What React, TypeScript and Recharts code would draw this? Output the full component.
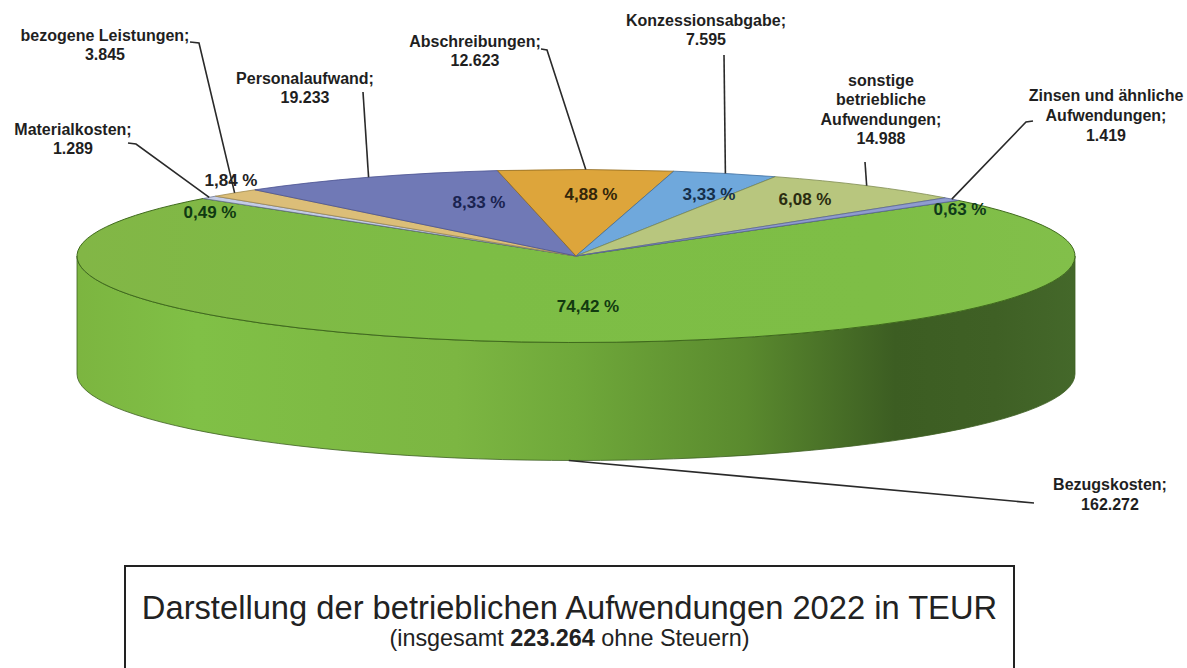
import React from 'react';
import { PieChart, Pie } from 'recharts';

const categories = ['Bezugskosten', 'Materialkosten', 'bezogene Leistungen', 'Personalaufwand', 'Abschreibungen', 'Konzessionsabgabe', 'sonstige betriebliche Aufwendungen', 'Zinsen und ähnliche Aufwendungen'];
const values = [162272, 1289, 3845, 19233, 12623, 7595, 14988, 1419];
const valueLabels = ['162.272', '1.289', '3.845', '19.233', '12.623', '7.595', '14.988', '1.419'];
const percentLabels = ['74,42 %', '0,49 %', '1,84 %', '8,33 %', '4,88 %', '3,33 %', '6,08 %', '0,63 %'];
const titleText = 'Darstellung der betrieblichen Aufwendungen 2022 in TEUR';

// styling and layout (not data)
const colors = ['#7DBB43', '#C4CCE6', '#DCBE78', '#7079B6', '#DDA53B', '#6FA8DC', '#B8C67E', '#8F9CCF'];
const strokes = ['#3f6a1c', '#6a7390', '#a08a50', '#4a5290', '#8f6a20', '#3f6f9f', '#7f8c50', '#5a6699'];
const percentColors = ['#123a10', '#0f3a12', '#222222', '#1a2350', '#33260a', '#152f4a', '#2a2c10', '#0f3a1a'];
const CX = 576, CY = 256, RX = 499, SQUASH = 86.5 / 499, DEPTH = 118;

const labelLayout = [
  { x: 1110, ys: [490, 510], lines: ['Bezugskosten;'], knee: [[1034, 503]], px: 588, py: 306, fromWall: true },
  { x: 73, ys: [135, 154], lines: ['Materialkosten;'], knee: [[128, 143], [136, 144]], px: 210, py: 212 },
  { x: 105, ys: [41, 60], lines: ['bezogene Leistungen;'], knee: [[190, 42], [199, 43]], px: 231, py: 180 },
  { x: 305, ys: [84, 103], lines: ['Personalaufwand;'], knee: [[363, 92]], px: 479, py: 202 },
  { x: 475, ys: [47, 66], lines: ['Abschreibungen;'], knee: [[541, 49], [547, 50]], px: 591, py: 194 },
  { x: 706, ys: [26, 45], lines: ['Konzessionsabgabe;'], knee: [[724, 55]], px: 709, py: 194 },
  { x: 881, ys: [86, 105, 125, 144], lines: ['sonstige', 'betriebliche', 'Aufwendungen;'], knee: [[865, 162]], px: 805, py: 199 },
  { x: 1106, ys: [101, 121, 141], lines: ['Zinsen und ähnliche', 'Aufwendungen;'], knee: [[1033, 121], [1026, 122]], px: 960, py: 209 },
];

const tableData = categories.map((name, i) => ({ name, value: values[i], fill: colors[i] }));
const FONT = '"Liberation Sans", Arial, sans-serif';

const pt = (cx: number, cy: number, rx: number, ry: number, deg: number) => {
  const a = (deg * Math.PI) / 180;
  return [cx + rx * Math.cos(a), cy - ry * Math.sin(a)];
};

const EllipseSector = (props: any) => {
  const { cx, cy, outerRadius, startAngle, endAngle, fill, index } = props;
  const rx = outerRadius, ry = outerRadius * SQUASH;
  const [x1, y1] = pt(cx, cy, rx, ry, startAngle);
  const [x2, y2] = pt(cx, cy, rx, ry, endAngle);
  const large = Math.abs(endAngle - startAngle) > 180 ? 1 : 0;
  const d = `M${cx},${cy} L${x1},${y1} A${rx},${ry} 0 ${large} 1 ${x2},${y2} Z`;
  const isMain = index === 0;
  return (
    <g>
      {isMain && (
        <path
          d={`M${cx - rx},${cy} A${rx},${ry} 0 0 0 ${cx + rx},${cy} L${cx + rx},${cy + DEPTH} A${rx},${ry} 0 0 1 ${cx - rx},${cy + DEPTH} Z`}
          fill="url(#wallGradient)"
          stroke="#3d5f22"
          strokeWidth={0.8}
        />
      )}
      <path d={d} fill={isMain ? 'url(#topGradient)' : fill} stroke={strokes[index]} strokeWidth={isMain ? 1 : 0.8} />
    </g>
  );
};

const renderLabel = (props: any) => {
  const { index, cx, cy, outerRadius, midAngle } = props;
  const l = labelLayout[index];
  const rx = outerRadius, ry = outerRadius * SQUASH;
  const [ax, ay0] = pt(cx, cy, rx, ry, midAngle);
  const ay = l.fromWall ? ay0 + DEPTH : ay0;
  const points = [...l.knee, [ax, ay]].map((p) => p.join(',')).join(' ');
  const texts = [...l.lines, valueLabels[index]];
  return (
    <g key={index}>
      <polyline points={points} fill="none" stroke="#2a2a2a" strokeWidth={1.6} />
      {texts.map((t, i) => (
        <text key={i} x={l.x} y={l.ys[i]} textAnchor="middle" fontFamily={FONT} fontWeight="bold" fontSize={16} fill="#1f1f1f">
          {t}
        </text>
      ))}
      <text x={l.px} y={l.py} textAnchor="middle" dominantBaseline="central" fontFamily={FONT} fontWeight="bold" fontSize={17} fill={percentColors[index]}>
        {percentLabels[index]}
      </text>
    </g>
  );
};

export default function App() {
  return (
    <div style={{ position: 'absolute', left: 0, top: 0, width: 1187, height: 668, overflow: 'hidden', background: '#fff' }}>
      <PieChart width={1187} height={668} margin={{ top: 0, right: 0, bottom: 0, left: 0 }}>
        <defs>
          <linearGradient id="wallGradient" gradientUnits="userSpaceOnUse" x1={CX - RX} x2={CX + RX} y1={0} y2={0}>
            <stop offset="0" stopColor="#7CB540" />
            <stop offset="0.12" stopColor="#80C046" />
            <stop offset="0.38" stopColor="#7CB642" />
            <stop offset="0.5" stopColor="#6FA83A" />
            <stop offset="0.67" stopColor="#5A8A2E" />
            <stop offset="0.82" stopColor="#3C5D22" />
            <stop offset="0.92" stopColor="#3F6025" />
            <stop offset="1" stopColor="#44682A" />
          </linearGradient>
          <linearGradient id="topGradient" gradientUnits="userSpaceOnUse" x1={CX - RX} x2={CX + RX} y1={0} y2={0}>
            <stop offset="0" stopColor="#82B646" />
            <stop offset="0.4" stopColor="#7DBD45" />
            <stop offset="0.8" stopColor="#7EBE46" />
            <stop offset="1" stopColor="#82BF4A" />
          </linearGradient>
        </defs>
        <Pie
          data={tableData}
          dataKey="value"
          nameKey="name"
          cx={CX}
          cy={CY}
          innerRadius={0}
          outerRadius={RX}
          startAngle={40}
          endAngle={-320}
          paddingAngle={0}
          stroke="none"
          isAnimationActive={false}
          shape={EllipseSector}
          label={renderLabel}
          labelLine={false}
        />
      </PieChart>
      <div
        style={{
          position: 'absolute', left: 124, top: 565, width: 887, height: 140, border: '2px solid #222', boxSizing: 'content-box',
          fontFamily: FONT, textAlign: 'center', color: '#222',
        }}
      >
        <div style={{ fontSize: 32.7, lineHeight: '36px', marginTop: 23 }}>{titleText}</div>
        <div style={{ fontSize: 23.4, lineHeight: '26px', marginTop: -1, whiteSpace: 'nowrap' }}>
          (insgesamt <b>223.264</b> ohne Steuern)
        </div>
      </div>
    </div>
  );
}
